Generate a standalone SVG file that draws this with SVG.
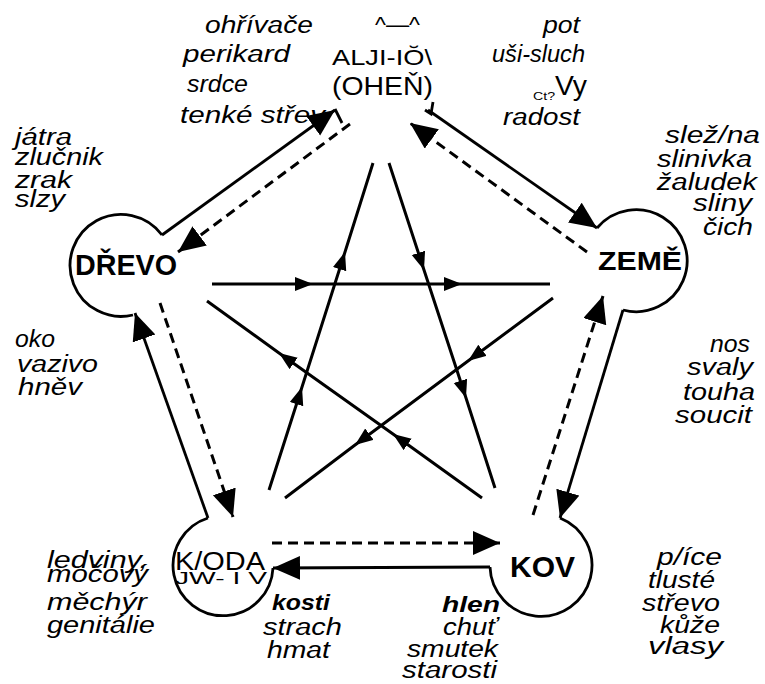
<svg xmlns="http://www.w3.org/2000/svg" width="765" height="684" viewBox="0 0 765 684">
<style>
.bg{fill:#fff}
.t{font-family:"Liberation Sans",Arial,sans-serif;fill:#000}
.it{font-style:italic;font-size:23px}
.bi{font-style:italic;font-weight:bold;font-size:22px}
.lbl{font-weight:bold}
.up{font-style:normal}
.bub{fill:none;stroke:#000;stroke-width:2.8;stroke-linejoin:miter}
.sol{fill:none;stroke:#000;stroke-width:2.8}
.dash{fill:none;stroke:#000;stroke-width:3;stroke-dasharray:10 6}
.star{fill:none;stroke:#000;stroke-width:3}
</style>
<defs>
<marker id="big" markerUnits="userSpaceOnUse" markerWidth="30" markerHeight="28" refX="27" refY="12" orient="auto">
<path d="M0,0 L27,12 L0,24 Z" fill="#000"/>
</marker>
<marker id="small" markerUnits="userSpaceOnUse" markerWidth="22" markerHeight="16" refX="18" refY="7" orient="auto">
<path d="M0,0 L18,7 L0,14 Z" fill="#000"/>
</marker>
</defs>
<rect class="bg" x="0" y="0" width="765" height="684"/>

<g id="node-ohen">
<text class="t up" x="375" y="32" font-size="22" textLength="45" lengthAdjust="spacingAndGlyphs">^—^</text>
<text class="t up" x="332" y="65" font-size="22" textLength="100" lengthAdjust="spacingAndGlyphs">ALJI-IŎ\</text>
<text class="t up" x="332" y="95" font-size="26" textLength="101" lengthAdjust="spacingAndGlyphs">(OHEŇ)</text>
<path class="sol" d="M335,109 L342,123"/>
<path class="sol" d="M433,102 L431,114 L425,110"/>
<text class="t it" x="205" y="33" textLength="108" lengthAdjust="spacingAndGlyphs">ohřívače</text>
<text class="t it" x="183" y="62" textLength="107" lengthAdjust="spacingAndGlyphs">perikard</text>
<text class="t it" x="187" y="92" textLength="61" lengthAdjust="spacingAndGlyphs">srdce</text>
<text class="t it" x="180" y="123" textLength="145" lengthAdjust="spacingAndGlyphs">tenké střev</text>
<text class="t it" x="543" y="33" textLength="37" lengthAdjust="spacingAndGlyphs">pot</text>
<text class="t it" x="492" y="62" textLength="93" lengthAdjust="spacingAndGlyphs">uši-sluch</text>
<text class="t up" x="533" y="100" font-size="10" textLength="22" lengthAdjust="spacingAndGlyphs">Ct?</text>
<text class="t up" x="555" y="95" font-size="28" textLength="32" lengthAdjust="spacingAndGlyphs">Vy</text>
<text class="t it" x="503" y="125" textLength="77" lengthAdjust="spacingAndGlyphs">radost</text>
</g>

<g id="node-zeme">
<path class="bub" d="M597,228 A51,51 0 1 1 623,310"/>
<text class="t lbl" x="598" y="270" font-size="25" textLength="84" lengthAdjust="spacingAndGlyphs">ZEMĚ</text>
<text class="t it" x="665" y="143" textLength="95" lengthAdjust="spacingAndGlyphs">slež/na</text>
<text class="t it" x="657" y="167" textLength="95" lengthAdjust="spacingAndGlyphs">slinivka</text>
<text class="t it" x="657" y="190" textLength="100" lengthAdjust="spacingAndGlyphs">žaludek</text>
<text class="t it" x="693" y="211" textLength="59" lengthAdjust="spacingAndGlyphs">sliny</text>
<text class="t it" x="703" y="235" textLength="50" lengthAdjust="spacingAndGlyphs">čich</text>
<text class="t it" x="710" y="352" textLength="40" lengthAdjust="spacingAndGlyphs">nos</text>
<text class="t it" x="687" y="375" textLength="66" lengthAdjust="spacingAndGlyphs">svaly</text>
<text class="t it" x="683" y="400" textLength="72" lengthAdjust="spacingAndGlyphs">touha</text>
<text class="t it" x="675" y="423" textLength="77" lengthAdjust="spacingAndGlyphs">soucit</text>
</g>

<g id="node-kov">
<path class="bub" d="M560,518 A51,51 0 1 1 490,567"/>
<text class="t lbl" x="510" y="577" font-size="30" textLength="65" lengthAdjust="spacingAndGlyphs">KOV</text>
<text class="t bi" x="442" y="612" textLength="58" lengthAdjust="spacingAndGlyphs">hlen</text>
<text class="t it" x="443" y="635" textLength="54" lengthAdjust="spacingAndGlyphs">chuť</text>
<text class="t it" x="407" y="657" textLength="91" lengthAdjust="spacingAndGlyphs">smutek</text>
<text class="t it" x="402" y="678" textLength="95" lengthAdjust="spacingAndGlyphs">starosti</text>
<text class="t it" x="657" y="565" textLength="65" lengthAdjust="spacingAndGlyphs">p/íce</text>
<text class="t it" x="648" y="588" textLength="67" lengthAdjust="spacingAndGlyphs">tlusté</text>
<text class="t it" x="642" y="611" textLength="78" lengthAdjust="spacingAndGlyphs">střevo</text>
<text class="t it" x="660" y="633" textLength="60" lengthAdjust="spacingAndGlyphs">kůže</text>
<text class="t it" x="648" y="654" textLength="75" lengthAdjust="spacingAndGlyphs">vlasy</text>
</g>

<g id="node-voda">
<path class="bub" d="M273,568 A50,50 0 1 1 208,518"/>
<text class="t up" x="175" y="570" font-size="25" textLength="90" lengthAdjust="spacingAndGlyphs">K/ODA</text>
<text class="t up" x="175" y="584" font-size="17" textLength="92" lengthAdjust="spacingAndGlyphs">JW-  I V</text>
<text class="t it" x="47" y="568" textLength="101" lengthAdjust="spacingAndGlyphs">ledviny,</text>
<text class="t it" x="47" y="582" textLength="101" lengthAdjust="spacingAndGlyphs">močový</text>
<text class="t it" x="47" y="610" textLength="100" lengthAdjust="spacingAndGlyphs">měchýr</text>
<text class="t it" x="47" y="633" textLength="108" lengthAdjust="spacingAndGlyphs">genitálie</text>
<text class="t bi" x="272" y="610" textLength="58" lengthAdjust="spacingAndGlyphs">kosti</text>
<text class="t it" x="263" y="635" textLength="79" lengthAdjust="spacingAndGlyphs">strach</text>
<text class="t it" x="267" y="658" textLength="63" lengthAdjust="spacingAndGlyphs">hmat</text>
</g>

<g id="node-drevo">
<path class="bub" d="M162,235 A51,51 0 1 0 133,315"/>
<text class="t lbl" x="75" y="275" font-size="29" textLength="102" lengthAdjust="spacingAndGlyphs">DŘEVO</text>
<text class="t it" x="15" y="145" textLength="57" lengthAdjust="spacingAndGlyphs">játra</text>
<text class="t it" x="15" y="165" textLength="88" lengthAdjust="spacingAndGlyphs">zlučnik</text>
<text class="t it" x="15" y="188" textLength="57" lengthAdjust="spacingAndGlyphs">zrak</text>
<text class="t it" x="15" y="207" textLength="50" lengthAdjust="spacingAndGlyphs">slzy</text>
<text class="t it" x="15" y="347" textLength="40" lengthAdjust="spacingAndGlyphs">oko</text>
<text class="t it" x="17" y="372" textLength="81" lengthAdjust="spacingAndGlyphs">vazivo</text>
<text class="t it" x="18" y="395" textLength="64" lengthAdjust="spacingAndGlyphs">hněv</text>
</g>

<g id="connectors">
<path class="sol" d="M162,235 L335,110" marker-end="url(#big)"/>
<path class="dash" d="M350,124 L178,252" marker-end="url(#big)"/>
<path class="sol" d="M428,110 L597,228" marker-end="url(#big)"/>
<path class="dash" d="M587,252 L410,123" marker-end="url(#big)"/>
<path class="sol" d="M623,310 L560,518" marker-end="url(#big)"/>
<path class="dash" d="M533,515 L603,296" marker-end="url(#big)"/>
<path class="sol" d="M490,567 L273,568" marker-end="url(#big)"/>
<path class="dash" d="M272,543 L500,543" marker-end="url(#big)"/>
<path class="sol" d="M208,518 L135,313" marker-end="url(#big)"/>
<path class="dash" d="M160,303 L233,517" marker-end="url(#big)"/>
<path class="star" d="M269,490 L302,387 L345,252 L373,163" marker-mid="url(#small)"/>
<path class="star" d="M389,163 L424,270 L466,398 L495,488" marker-mid="url(#small)"/>
<path class="star" d="M212,284 L313,284 L462,284 L550,284" marker-mid="url(#small)"/>
<path class="star" d="M482,498 L393,434 L279,353 L207,301" marker-mid="url(#small)"/>
<path class="star" d="M553,298 L468,361 L355,445 L285,498" marker-mid="url(#small)"/>
</g>
</svg>
